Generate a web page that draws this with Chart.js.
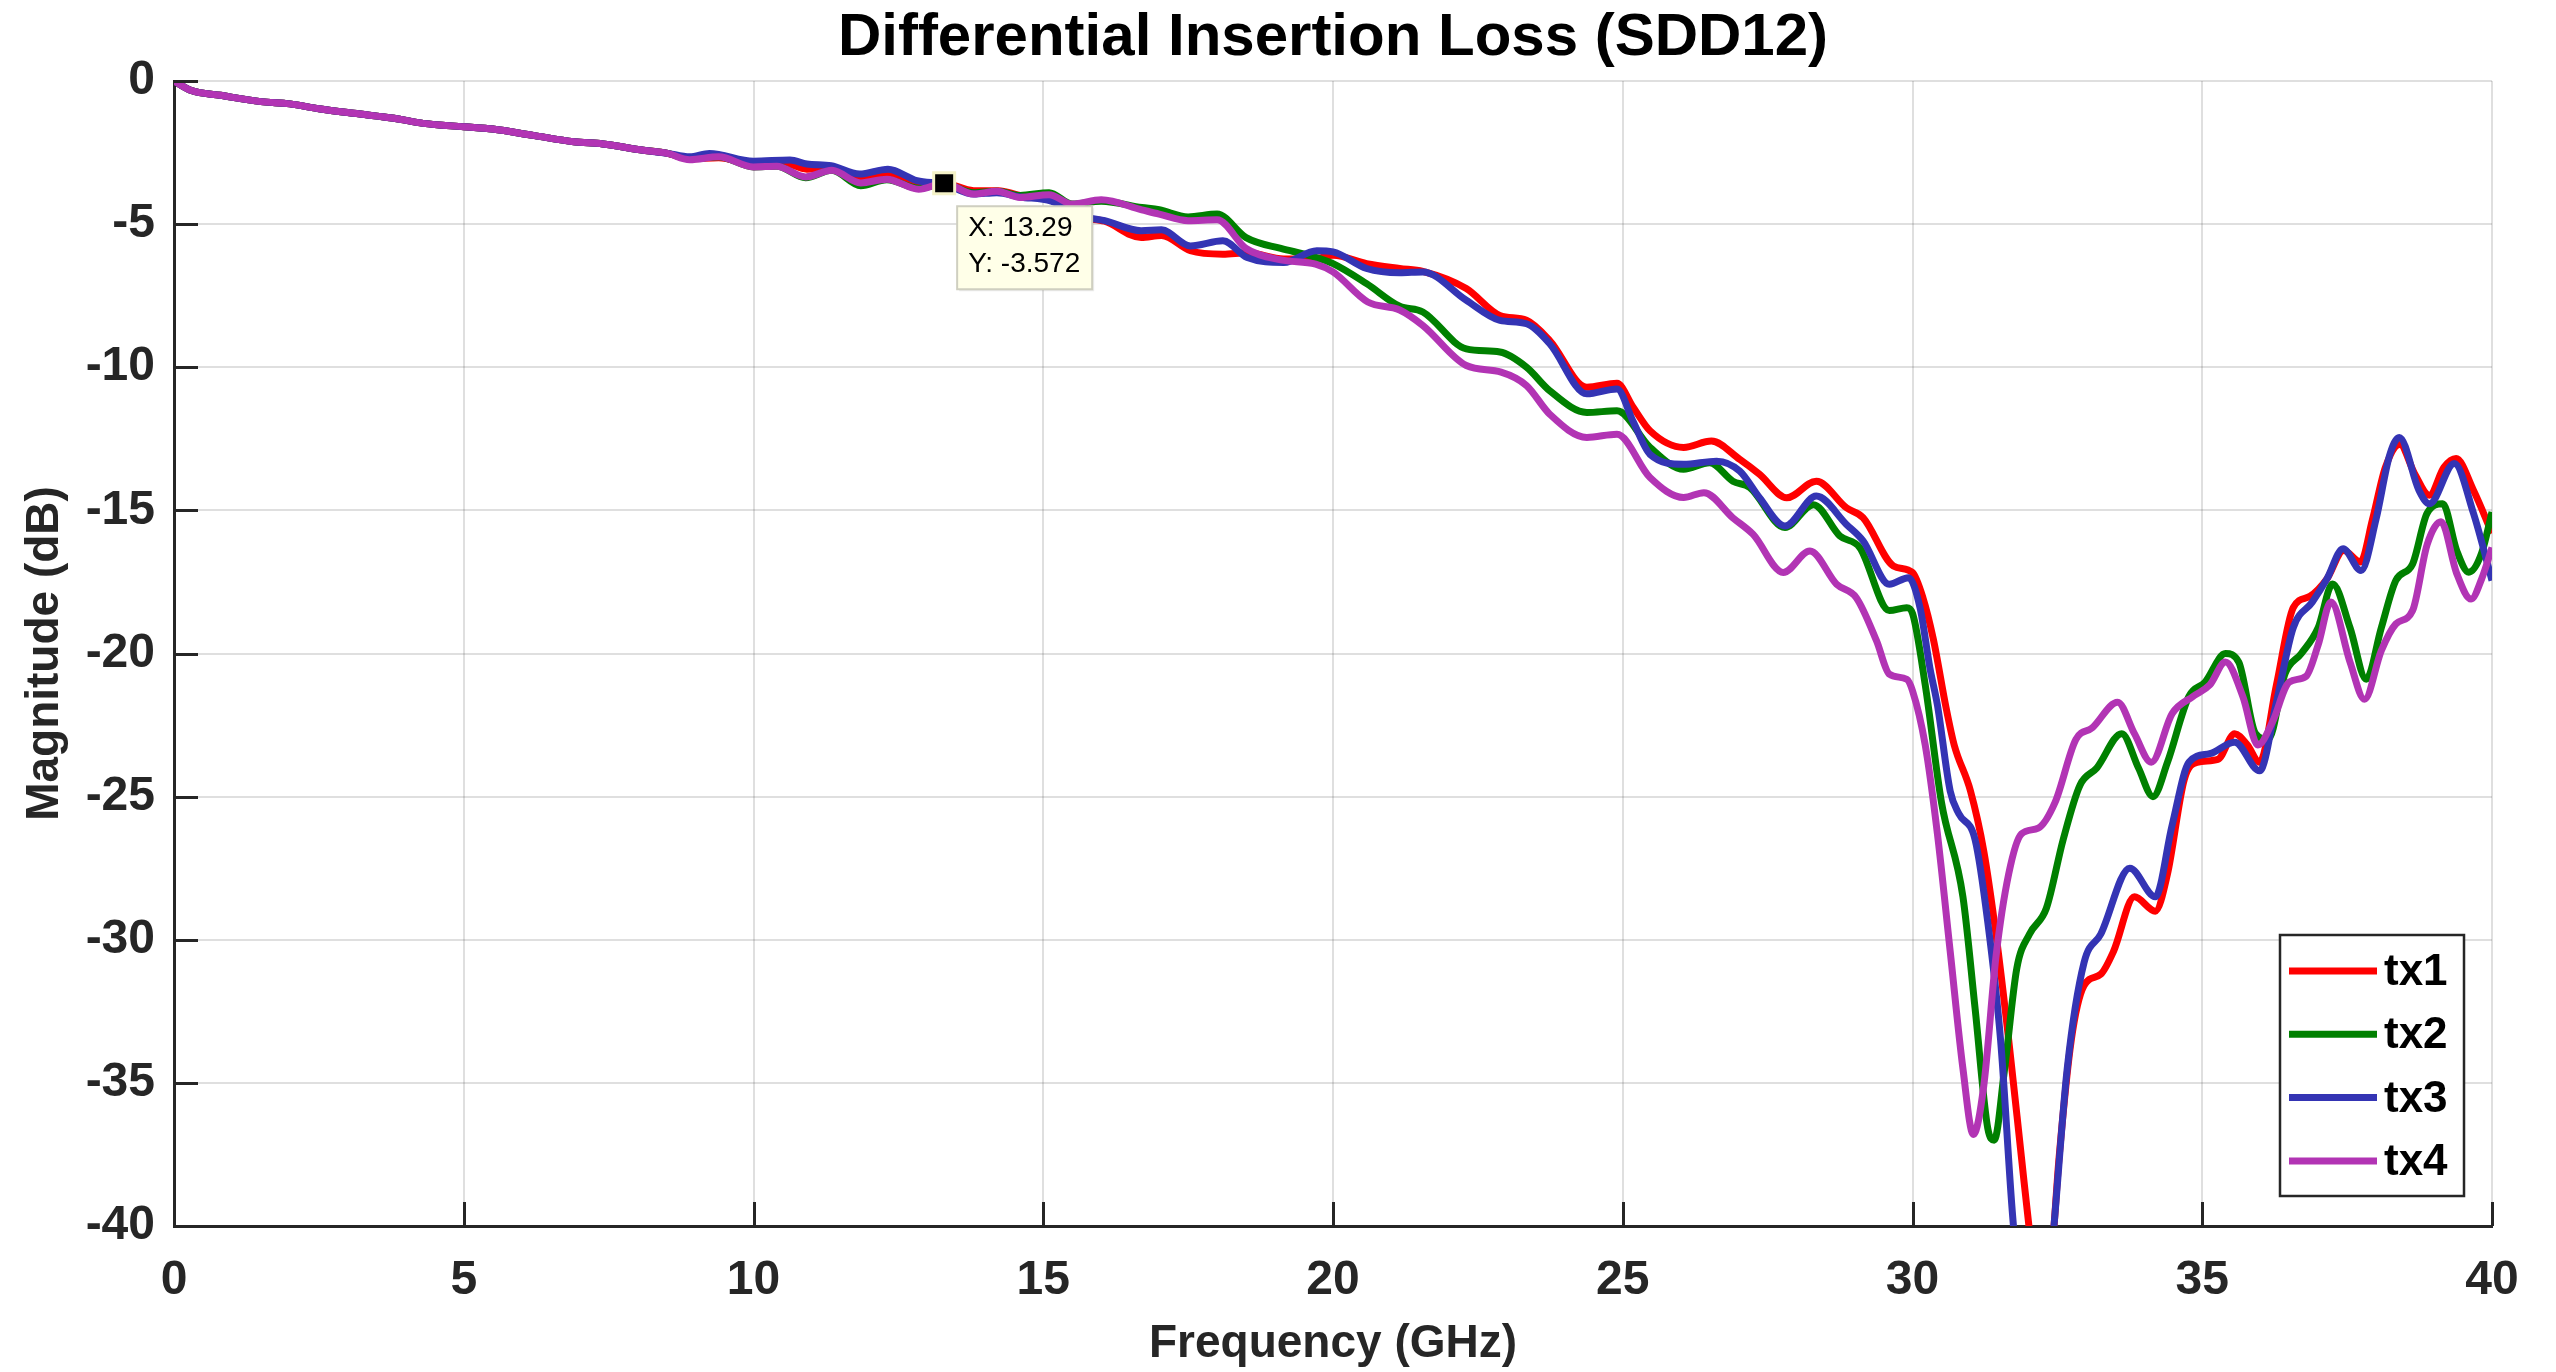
<!DOCTYPE html>
<html lang="en">
<head>
    <meta charset="UTF-8">
    <title>Differential Insertion Loss (SDD12)</title>
    <script src="https://cdn.jsdelivr.net/npm/chart.js"></script>
    <style>
        body { margin: 0; background: #fff; }
        canvas { display: block; }
    </style>
</head>
<body>
    <canvas id="sddCanvas" width="2556" height="1372"></canvas>

    <script>
        // shared low-frequency part (all four traces overlap here)
        const baseFreq = [0, 0.3, 0.8, 1.5, 2.0, 2.5, 3.1, 3.8, 4.3, 5.0, 5.5, 6.2, 6.9, 7.4, 8.1, 8.5];
        const baseMag = [0, -0.33, -0.5, -0.72, -0.8, -0.97, -1.13, -1.3, -1.48, -1.6, -1.68, -1.9, -2.12, -2.2, -2.42, -2.52];

        // tx1
        const tx1Freq = [8.9, 9.4, 10.0, 10.5, 10.92, 11.34, 11.83, 12.32, 12.82, 13.29, 13.8, 14.23, 14.6, 15.14, 15.63, 16.06, 16.69, 17.04, 17.54, 18.1, 18.52, 19.15, 19.72, 20.0,
            20.58, 21.15, 21.55, 22.3, 22.88, 23.34, 23.74, 24.38, 24.9, 25.18, 25.47, 26.05, 26.53, 27.02, 27.36, 27.83, 28.34, 28.86, 29.15, 29.67, 30.0,
            30.18, 30.36, 30.58, 30.72, 31.0, 31.23, 31.44, 31.66, 31.88, 32.02, 32.2, 32.4, 32.53, 32.74, 32.96, 33.25, 33.47, 33.83, 34.19, 34.4, 34.69, 34.91,
            35.27, 35.56, 35.78, 35.99, 36.28, 36.57, 36.86, 37.15, 37.44, 37.73, 37.94, 38.16, 38.41, 38.66, 38.92, 39.17, 39.38, 39.68, 40];
        const tx1Mag = [-2.72, -2.68, -2.9, -2.85, -3.08, -3.0, -3.37, -3.3, -3.55, -3.57, -3.83, -3.83, -4.0, -4.13, -4.75, -4.9, -5.47, -5.4, -5.93, -6.05, -6.0, -6.22, -6.2, -6.09,
            -6.38, -6.55, -6.65, -7.25, -8.19, -8.36, -9.07, -10.7, -10.56, -11.4, -12.22, -12.8, -12.58, -13.22, -13.74, -14.56, -13.98, -14.91, -15.26, -16.94, -17.17,
            -18.05, -19.5, -21.9, -23.2, -24.8, -26.9, -29.8, -33.5, -37.6, -40.2, -43, -41, -37.6, -33.5, -31.6, -31.2, -30.4, -28.5, -29.0, -27.7, -24.4, -23.8,
            -23.7, -22.8, -23.2, -23.8, -21.1, -18.4, -18.0, -17.4, -16.4, -16.8, -15.3, -13.5, -12.7, -13.7, -14.47, -13.5, -13.19, -14.3, -15.8];

        // tx2
        const tx2Freq = [8.9, 9.4, 10.0, 10.4, 10.9, 11.35, 11.85, 12.3, 12.85, 13.29, 13.8, 14.2, 14.6, 15.1, 15.5, 16.0, 16.7, 17.0, 17.5, 18.0, 18.5, 19.1, 19.6, 20.0,
            20.58, 21.15, 21.55, 22.3, 22.88, 23.34, 23.74, 24.38, 24.9, 25.47, 26.05, 26.5, 26.9, 27.19, 27.8, 28.29, 28.75, 29.09, 29.6, 29.9, 30.0,
            30.22, 30.5, 30.87, 31.08, 31.3, 31.41, 31.59, 31.8, 32.02, 32.31, 32.6, 32.89, 33.18, 33.61, 33.9, 34.15, 34.4, 34.77, 35.05, 35.4, 35.63, 35.92,
            36.14, 36.43, 36.71, 37.0, 37.25, 37.55, 37.83, 38.09, 38.34, 38.63, 38.88, 39.15, 39.39, 39.6, 39.82, 40];
        const tx2Mag = [-2.72, -2.65, -3.0, -2.98, -3.38, -3.12, -3.66, -3.45, -3.75, -3.6, -3.9, -3.85, -4.0, -3.9, -4.3, -4.2, -4.42, -4.5, -4.75, -4.65, -5.47, -5.85, -6.1, -6.38,
            -7.08, -7.87, -8.07, -9.36, -9.47, -10.0, -10.82, -11.58, -11.52, -12.8, -13.56, -13.34, -13.98, -14.2, -15.6, -14.8, -15.9, -16.3, -18.5, -18.4, -18.6,
            -21.1, -25.2, -28.5, -32.4, -36.6, -37.0, -34.5, -31.0, -29.8, -28.9, -26.5, -24.6, -24.0, -22.8, -24.0, -25.0, -23.8, -21.5, -21.0, -20.0, -20.3, -22.8,
            -23.0, -20.7, -20.0, -19.1, -17.57, -19.1, -20.9, -19.1, -17.45, -16.87, -15.1, -14.77, -16.4, -17.16, -16.5, -15.06];

        // tx3
        const tx3Freq = [8.9, 9.24, 10.0, 10.63, 10.92, 11.34, 11.83, 12.32, 12.82, 13.29, 13.8, 14.2, 14.6, 15.14, 15.63, 16.06, 16.69, 17.04, 17.54, 18.1, 18.52, 19.15, 19.72, 20.0,
            20.58, 21.15, 21.55, 22.3, 22.88, 23.34, 23.74, 24.38, 24.9, 25.18, 25.47, 26.05, 26.62, 27.02, 27.36, 27.8, 28.34, 28.86, 29.15, 29.6, 29.93,
            30.13, 30.3, 30.43, 30.65, 30.8, 31.08, 31.3, 31.52, 31.73, 31.95, 32.2, 32.42, 32.67, 32.96, 33.25, 33.75, 34.19, 34.48, 34.77, 35.13, 35.56, 35.99,
            36.28, 36.57, 36.9, 37.15, 37.43, 37.74, 38.0, 38.23, 38.4, 38.74, 38.92, 39.35, 39.68, 40];
        const tx3Mag = [-2.65, -2.53, -2.8, -2.76, -2.9, -2.96, -3.25, -3.08, -3.48, -3.6, -3.95, -3.9, -4.05, -4.2, -4.71, -4.88, -5.23, -5.2, -5.76, -5.58, -6.17, -6.34, -5.93, -5.97,
            -6.55, -6.7, -6.67, -7.66, -8.36, -8.48, -9.18, -10.93, -10.76, -11.9, -13.04, -13.39, -13.28, -13.63, -14.56, -15.55, -14.5, -15.49, -16.07, -17.58, -17.35,
            -18.4, -20.5, -21.8, -24.8, -25.6, -26.5, -29.4, -33.5, -39.7, -44, -45, -40.5, -34.5, -30.8, -29.8, -27.5, -28.5, -26.0, -23.8, -23.5, -23.1, -24.1,
            -21.7, -19.1, -18.2, -17.4, -16.34, -17.1, -15.3, -13.1, -12.45, -14.3, -14.77, -13.36, -15.1, -17.45];

        // tx4
        const tx4Freq = [8.9, 9.4, 10.0, 10.4, 10.9, 11.35, 11.85, 12.3, 12.85, 13.29, 13.8, 14.2, 14.6, 15.1, 15.5, 16.0, 16.7, 17.0, 17.5, 18.0, 18.5, 19.1, 19.7, 20.0,
            20.6, 21.15, 21.55, 22.3, 22.9, 23.34, 23.74, 24.38, 24.9, 25.47, 26.05, 26.4, 26.9, 27.25, 27.77, 28.23, 28.69, 29.03, 29.38, 29.6, 29.9, 30.0,
            30.22, 30.43, 30.65, 30.87, 31.05, 31.23, 31.44, 31.66, 31.88, 32.17, 32.46, 32.82, 33.1, 33.54, 33.83, 34.12, 34.48, 34.84, 35.13, 35.4, 35.7, 35.96,
            36.21, 36.5, 36.79, 37.0, 37.22, 37.55, 37.8, 38.09, 38.34, 38.63, 38.88, 39.12, 39.39, 39.64, 39.82, 40];
        const tx4Mag = [-2.75, -2.65, -3.0, -2.98, -3.35, -3.12, -3.56, -3.43, -3.78, -3.57, -3.95, -3.85, -4.07, -3.97, -4.3, -4.15, -4.5, -4.65, -4.88, -4.85, -5.85, -6.25, -6.4, -6.67,
            -7.72, -8.0, -8.54, -9.94, -10.17, -10.64, -11.64, -12.45, -12.34, -13.85, -14.55, -14.38, -15.26, -15.84, -17.17, -16.42, -17.58, -18.05, -19.56, -20.72, -20.9, -21.3,
            -23.2, -26.3, -30.4, -34.5, -36.8, -35.1, -30.6, -27.7, -26.3, -26.1, -25.2, -23.0, -22.6, -21.7, -22.8, -23.8, -22.1, -21.5, -21.1, -20.3, -21.5, -23.2,
            -22.4, -21.0, -20.8, -19.7, -18.2, -20.3, -21.6, -19.9, -18.97, -18.5, -16.2, -15.4, -17.2, -18.1, -17.4, -16.3];

        const seriesNames = ['tx1', 'tx2', 'tx3', 'tx4'];
        const seriesColors = ['#ff0000', '#008000', '#3434b4', '#b234b4'];

        const chartTitle = 'Differential Insertion Loss (SDD12)';

        // data cursor
        const tipX = 13.29;
        const tipY = -3.572;

        const FONT = '"Liberation Sans", Arial, Helvetica, sans-serif';
        const AXIS = '#262626';

        function points(freq, mag) {
            const f = baseFreq.concat(freq);
            const m = baseMag.concat(mag);
            return f.map((x, i) => ({ x: x, y: m[i] }));
        }

        const allFreq = [tx1Freq, tx2Freq, tx3Freq, tx4Freq];
        const allMag = [tx1Mag, tx2Mag, tx3Mag, tx4Mag];

        const datasets = seriesNames.map((name, i) => ({
            label: name,
            data: points(allFreq[i], allMag[i]),
            borderColor: seriesColors[i],
            backgroundColor: seriesColors[i],
            borderWidth: 7,
            pointRadius: 0,
            fill: false,
            cubicInterpolationMode: 'monotone',
            order: seriesNames.length - i,   // later traces on top, like MATLAB
        }));

        // title centred over the axes rather than the canvas
        const axesTitle = {
            id: 'axesTitle',
            afterDraw(chart) {
                const { ctx, chartArea } = chart;
                ctx.save();
                ctx.fillStyle = '#000';
                ctx.font = 'bold 60px ' + FONT;
                ctx.textAlign = 'center';
                ctx.textBaseline = 'middle';
                ctx.fillText(chartTitle, (chartArea.left + chartArea.right) / 2, 38);
                ctx.restore();
            }
        };

        // ticks pointing into the axes, MATLAB style
        const insideTicks = {
            id: 'insideTicks',
            afterDatasetsDraw(chart) {
                const { ctx, chartArea, scales } = chart;
                ctx.save();
                ctx.strokeStyle = AXIS;
                ctx.lineWidth = 3;
                const len = 24;
                scales.x.ticks.forEach(t => {
                    const px = Math.round(scales.x.getPixelForValue(t.value)) + 0.5;
                    ctx.beginPath();
                    ctx.moveTo(px, chartArea.bottom);
                    ctx.lineTo(px, chartArea.bottom - len);
                    ctx.stroke();
                });
                scales.y.ticks.forEach(t => {
                    const py = Math.round(scales.y.getPixelForValue(t.value)) + 0.5;
                    ctx.beginPath();
                    ctx.moveTo(chartArea.left, py);
                    ctx.lineTo(chartArea.left + len, py);
                    ctx.stroke();
                });
                ctx.restore();
            }
        };

        // data tip box + marker
        const dataTip = {
            id: 'dataTip',
            afterDatasetsDraw(chart) {
                const { ctx, scales } = chart;
                const px = scales.x.getPixelForValue(tipX);
                const py = scales.y.getPixelForValue(tipY);
                ctx.save();
                // box
                const bx = px + 13, by = py + 23, bw = 135, bh = 83;
                ctx.fillStyle = 'rgba(0,0,0,0.08)';
                ctx.fillRect(bx + 2, by + 2, bw, bh);
                ctx.fillStyle = '#ffffe8';
                ctx.fillRect(bx, by, bw, bh);
                ctx.strokeStyle = '#cfcfc0';
                ctx.lineWidth = 2;
                ctx.strokeRect(bx, by, bw, bh);
                ctx.fillStyle = '#000';
                ctx.font = '28px ' + FONT;
                ctx.textBaseline = 'middle';
                ctx.textAlign = 'left';
                ctx.fillText('X: ' + tipX, bx + 11, by + 22);
                ctx.fillText('Y: ' + tipY, bx + 11, by + 58);
                // marker
                ctx.fillStyle = '#f4f2c8';
                ctx.fillRect(px - 12, py - 12, 24, 24);
                ctx.fillStyle = '#000';
                ctx.fillRect(px - 9, py - 9, 18, 18);
                ctx.restore();
            }
        };

        // legend drawn inside the axes, bottom right
        const innerLegend = {
            id: 'innerLegend',
            afterDraw(chart) {
                const { ctx, chartArea } = chart;
                const w = 184, h = 261;
                const x0 = chartArea.right - 28 - w;
                const y0 = chartArea.bottom - 30 - h;
                ctx.save();
                ctx.fillStyle = '#fff';
                ctx.fillRect(x0, y0, w, h);
                ctx.strokeStyle = AXIS;
                ctx.lineWidth = 2.5;
                ctx.strokeRect(x0, y0, w, h);
                ctx.font = 'bold 44px ' + FONT;
                ctx.textBaseline = 'middle';
                ctx.textAlign = 'left';
                chart.data.datasets.forEach((ds, i) => {
                    const cy = y0 + 36 + i * 63.3;
                    ctx.strokeStyle = ds.borderColor;
                    ctx.lineWidth = 7;
                    ctx.beginPath();
                    ctx.moveTo(x0 + 9, cy);
                    ctx.lineTo(x0 + 97, cy);
                    ctx.stroke();
                    ctx.fillStyle = '#000';
                    ctx.fillText(ds.label, x0 + 104, cy + 2);
                });
                ctx.restore();
            }
        };

        const config = {
            type: 'line',
            data: { datasets: datasets },
            options: {
                responsive: false,
                animation: false,
                devicePixelRatio: 1,
                layout: { padding: { left: 0, right: 64, top: 81, bottom: 0 } },
                plugins: {
                    legend: { display: false },
                    tooltip: { enabled: false },
                    title: { display: false },
                },
                scales: {
                    x: {
                        type: 'linear',
                        min: 0,
                        max: 40,
                        ticks: {
                            stepSize: 5,
                            color: AXIS,
                            padding: 26,
                            font: { family: FONT, size: 48, weight: 'bold' },
                        },
                        grid: { color: 'rgba(38,38,38,0.15)', lineWidth: 2, drawTicks: false },
                        border: { display: true, color: AXIS, width: 3 },
                        title: {
                            display: true,
                            text: 'Frequency (GHz)',
                            color: AXIS,
                            font: { family: FONT, size: 46, weight: 'bold', lineHeight: 1.2 },
                            padding: { top: 0, bottom: 0 },
                        },
                        afterFit(scale) { scale.height = 146; },
                    },
                    y: {
                        type: 'linear',
                        min: -40,
                        max: 0,
                        ticks: {
                            stepSize: 5,
                            color: AXIS,
                            padding: 19,
                            font: { family: FONT, size: 48, weight: 'bold' },
                        },
                        grid: { color: 'rgba(38,38,38,0.15)', lineWidth: 2, drawTicks: false },
                        border: { display: true, color: AXIS, width: 3 },
                        title: {
                            display: true,
                            text: 'Magnitude (dB)',
                            color: AXIS,
                            font: { family: FONT, size: 46, weight: 'bold', lineHeight: 1.2 },
                            padding: { top: 18, bottom: 0 },
                        },
                        afterFit(scale) { scale.width = 174; },
                    },
                },
            },
            plugins: [axesTitle, insideTicks, dataTip, innerLegend],
        };

        new Chart(document.getElementById('sddCanvas'), config);
    </script>
</body>
</html>
